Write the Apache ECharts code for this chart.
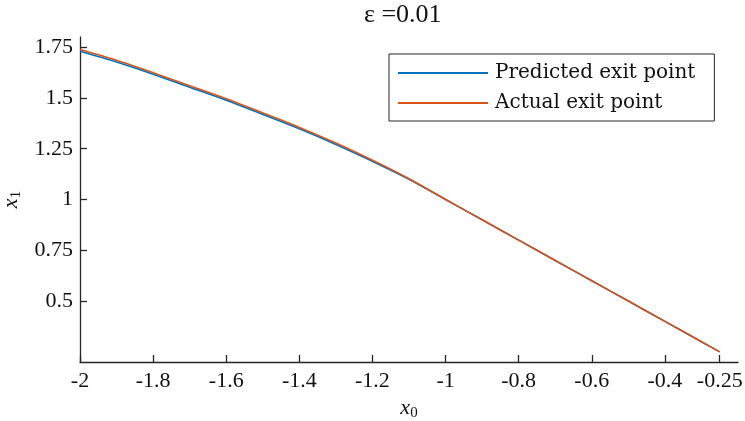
<!DOCTYPE html>
<html><head><meta charset="utf-8">
<script src="https://cdn.jsdelivr.net/npm/echarts@6/dist/echarts.min.js"></script>
<style>html,body{margin:0;padding:0;background:#fff}#c{width:745px;height:421px}</style>
</head><body><div id="c"></div>
<script>
var x0 = [-2.0,-1.9,-1.8,-1.7,-1.6,-1.5,-1.4,-1.3,-1.2,-1.1,-1.0,-0.9,-0.8,-0.7,-0.6,-0.5,-0.4,-0.3,-0.25];
var predicted = [1.730,1.677,1.617,1.553,1.489,1.419,1.348,1.271,1.188,1.100,1.0,0.9,0.8,0.7,0.6,0.5,0.4,0.3,0.25];
var actual    = [1.738,1.685,1.624,1.560,1.496,1.426,1.355,1.278,1.193,1.102,1.0,0.9,0.8,0.7,0.6,0.5,0.4,0.3,0.25];
var xTicks = [-2,-1.8,-1.6,-1.4,-1.2,-1,-0.8,-0.6,-0.4,-0.25];
var yTicks = [0.5,0.75,1,1.25,1.5,1.75];
var seriesNames = ['Predicted exit point','Actual exit point'];
var titleText = '\u03B5 =0.01';
var colors = ['#0072BD','#D95319'];
var FONT = 'Liberation Serif';
var TFONT = 'DejaVu Serif';

function pairs(ys){ return x0.map(function(x,i){ return [x, ys[i]]; }); }

var chart = echarts.init(document.getElementById('c'), null, {renderer:'canvas'});
var axisCol = '#262626';
chart.setOption({
  animation:false,
  color: colors,
  graphic:[{ type:'text', left:364, top:2, z:10,
    style:{ text:titleText, fontFamily:FONT, fontSize:26, fill:'#111' } }],
  grid:{ left:80, right:7, top:37, bottom:59, outerBoundsMode:'none', containLabel:false },
  legend:{ left:389, top:54, orient:'vertical', borderColor:'#262626', borderWidth:1,
    padding:[7,19,6,9], itemGap:6, itemWidth:90, itemHeight:2, icon:'rect',
    textStyle:{ fontFamily:TFONT, fontSize:20, lineHeight:24, color:'#111', padding:[0,0,0,2] },
    backgroundColor:'#fff', data: seriesNames },
  xAxis:{ type:'value', min:-2, max:-0.2,
    name:'{i|x}{s|0}', nameLocation:'middle', nameGap:32,
    nameTextStyle:{ rich:{ i:{fontFamily:FONT, fontStyle:'italic', fontSize:22, color:'#111'},
      s:{fontFamily:FONT, fontSize:15, color:'#111', verticalAlign:'bottom', padding:[10,0,0,0]} } },
    axisLine:{ show:true, lineStyle:{ color:axisCol, width:1.3 } },
    axisTick:{ show:true, inside:true, length:7, lineStyle:{color:axisCol, width:1.3}, customValues:xTicks },
    axisLabel:{ fontFamily:FONT, fontSize:22, color:'#111', margin:8, customValues:xTicks,
      formatter:function(v){ return String(v); } },
    splitLine:{ show:false } },
  yAxis:{ type:'value', min:0.2, max:1.8,
    name:'{i|x}{s|1}', nameLocation:'middle', nameGap:49, nameRotate:90,
    nameTextStyle:{ rich:{ i:{fontFamily:FONT, fontStyle:'italic', fontSize:22, color:'#111'},
      s:{fontFamily:FONT, fontSize:15, color:'#111', verticalAlign:'bottom', padding:[10,0,0,0]} } },
    axisLine:{ show:true, lineStyle:{ color:axisCol, width:1.3 } },
    axisTick:{ show:true, inside:true, length:7, lineStyle:{color:axisCol, width:1.3}, customValues:yTicks },
    axisLabel:{ fontFamily:FONT, fontSize:22, color:'#111', margin:7, customValues:yTicks,
      formatter:function(v){ return String(v); } },
    splitLine:{ show:false } },
  series:[
    { name:seriesNames[0], type:'line', data:pairs(predicted), symbol:'none', smooth:0.3,
      lineStyle:{ width:1.6, color:colors[0] }, itemStyle:{color:colors[0]} },
    { name:seriesNames[1], type:'line', data:pairs(actual), symbol:'none', smooth:0.3,
      lineStyle:{ width:1.6, color:colors[1] }, itemStyle:{color:colors[1]} }
  ]
});
</script></body></html>
